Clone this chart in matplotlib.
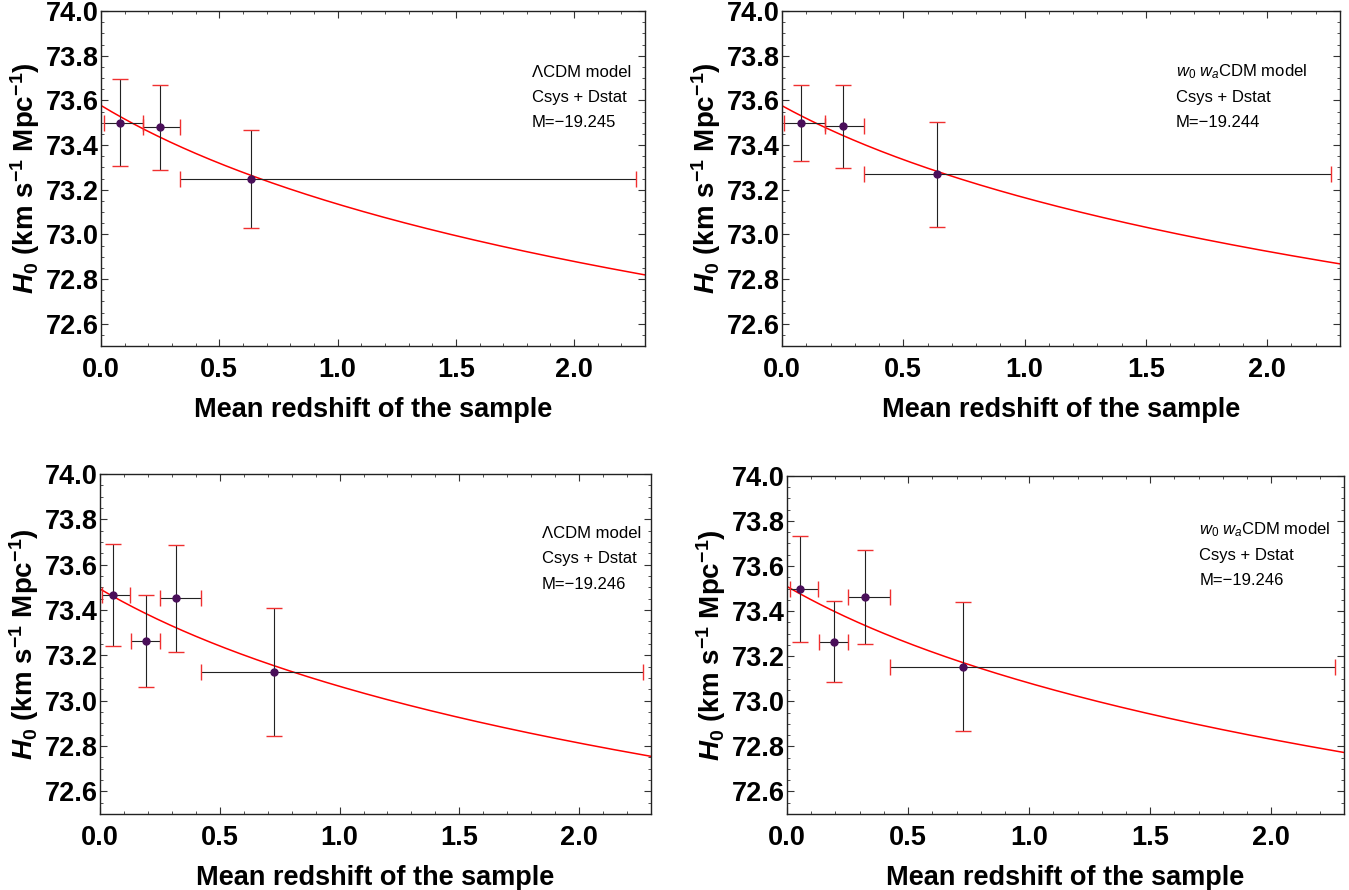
import numpy as np
import matplotlib
matplotlib.use("Agg")
import matplotlib.pyplot as plt
from matplotlib.ticker import MultipleLocator

plt.rcParams["font.family"] = ["Liberation Sans", "DejaVu Sans"]
plt.rcParams["mathtext.fontset"] = "custom"
plt.rcParams["mathtext.rm"] = "Liberation Sans"
plt.rcParams["mathtext.it"] = "Liberation Sans:italic"
plt.rcParams["mathtext.bf"] = "Liberation Sans:bold"
plt.rcParams["mathtext.bfit"] = "Liberation Sans:bold:italic"

# --- data ---
# top left: LCDM, 3 bins
tl_z = [0.080, 0.249, 0.636]
tl_z_lo = [0.011, 0.176, 0.335]
tl_z_hi = [0.176, 0.335, 2.260]
tl_h = [73.500, 73.480, 73.249]
tl_h_lo = [73.307, 73.290, 73.030]
tl_h_hi = [73.695, 73.670, 73.467]
tl_fit = (73.577, 0.00868)   # H0_tilde, alpha

# top right: w0waCDM, 3 bins
tr_z = [0.080, 0.250, 0.638]
tr_z_lo = [0.009, 0.176, 0.337]
tr_z_hi = [0.176, 0.337, 2.263]
tr_h = [73.500, 73.486, 73.271]
tr_h_lo = [73.329, 73.299, 73.032]
tr_h_hi = [73.668, 73.671, 73.504]
tr_fit = (73.576, 0.00810)

# bottom left: LCDM, 4 bins
bl_z = [0.053, 0.193, 0.316, 0.725]
bl_z_lo = [0.007, 0.131, 0.251, 0.421]
bl_z_hi = [0.127, 0.251, 0.421, 2.265]
bl_h = [73.466, 73.262, 73.451, 73.126]
bl_h_lo = [73.240, 73.060, 73.215, 72.843]
bl_h_hi = [73.693, 73.465, 73.688, 73.410]
bl_fit = (73.493, 0.00846)

# bottom right: w0waCDM, 4 bins
br_z = [0.054, 0.192, 0.320, 0.727]
br_z_lo = [0.011, 0.133, 0.250, 0.424]
br_z_hi = [0.129, 0.250, 0.424, 2.264]
br_h = [73.499, 73.264, 73.463, 73.154]
br_h_lo = [73.265, 73.085, 73.254, 72.870]
br_h_hi = [73.735, 73.444, 73.673, 73.439]
br_fit = (73.509, 0.00843)

lcdm_txt = "ΛCDM model"
wcdm_txt = r"$w_0\ w_a$CDM model"
method_txt = "Csys + Dstat"

panels = [
    # axes rect, data, label lines, text x/y (axes fraction)
    ([0.0749, 0.6112, 0.4033, 0.3764], (tl_z, tl_z_lo, tl_z_hi, tl_h, tl_h_lo, tl_h_hi, tl_fit),
     [lcdm_txt, method_txt, "M=−19.245"], 0.792, 0.818),
    ([0.5797, 0.6112, 0.4136, 0.3764], (tr_z, tr_z_lo, tr_z_hi, tr_h, tr_h_lo, tr_h_hi, tr_fit),
     [wcdm_txt, method_txt, "M=−19.244"], 0.706, 0.818),
    ([0.0741, 0.0854, 0.4085, 0.3820], (bl_z, bl_z_lo, bl_z_hi, bl_h, bl_h_lo, bl_h_hi, bl_fit),
     [lcdm_txt, method_txt, "M=−19.246"], 0.802, 0.826),
    ([0.5834, 0.0854, 0.4129, 0.3800], (br_z, br_z_lo, br_z_hi, br_h, br_h_lo, br_h_hi, br_fit),
     [wcdm_txt, method_txt, "M=−19.246"], 0.740, 0.840),
]

fig = plt.figure(figsize=(13.49, 8.90), dpi=100)

for rect, data, lines, tx, ty in panels:
    z, z_lo, z_hi, h, h_lo, h_hi = [np.asarray(d) for d in data[:6]]
    fit = data[6]
    ax = fig.add_axes(rect)

    # fit curve H0(z) = H0_tilde / (1+z)^alpha
    zz = np.linspace(0, 2.3, 300)
    ax.plot(zz, fit[0] / (1 + zz) ** fit[1], color="red", lw=1.1, zorder=2)

    # error bars: dark bars, red caps
    ax.errorbar(z, h, xerr=[z - z_lo, z_hi - z], yerr=[h - h_lo, h_hi - h],
                fmt="none", ecolor="#222222", elinewidth=0.8, capsize=0, zorder=3)
    ax.plot(z, h_lo, ls="none", marker="_", ms=12, mew=1.0, color="#f03030", zorder=4)
    ax.plot(z, h_hi, ls="none", marker="_", ms=12, mew=1.0, color="#f03030", zorder=4)
    ax.plot(z_lo, h, ls="none", marker="|", ms=12, mew=1.0, color="#f03030", zorder=4)
    ax.plot(z_hi, h, ls="none", marker="|", ms=12, mew=1.0, color="#f03030", zorder=4)
    ax.plot(z, h, ls="none", marker="o", ms=5, color="#4a0f5a", zorder=5)

    ax.set_xlim(0, 2.3)
    ax.set_ylim(72.5, 74.0)
    ax.xaxis.set_major_locator(MultipleLocator(0.5))
    ax.xaxis.set_minor_locator(MultipleLocator(0.1))
    ax.yaxis.set_major_locator(MultipleLocator(0.2))
    ax.yaxis.set_minor_locator(MultipleLocator(0.05))
    ax.yaxis.set_major_formatter(matplotlib.ticker.FormatStrFormatter("%.1f"))
    ax.xaxis.set_major_formatter(matplotlib.ticker.FormatStrFormatter("%.1f"))
    ax.tick_params(which="both", direction="in", top=True, right=True, color="#333333")
    ax.tick_params(which="major", length=5, width=0.8)
    ax.tick_params(which="minor", length=2.5, width=0.6)
    ax.tick_params(axis="y", labelsize=19.5, pad=1.5)
    ax.tick_params(axis="x", labelsize=19.5, pad=8)
    for lab in ax.get_xticklabels() + ax.get_yticklabels():
        lab.set_fontweight("bold")
    for sp in ax.spines.values():
        sp.set_linewidth(1.0)
        sp.set_color("#222222")

    ax.set_xlabel("Mean redshift of the sample", fontsize=19.5, fontweight="bold", labelpad=10)
    ax.set_ylabel(r"$\mathbfit{H}_{\mathbf{0}}$ (km s$^{\mathbf{-1}}$ Mpc$^{\mathbf{-1}}$)",
                  fontsize=20, fontweight="bold", labelpad=3)

    for i, line in enumerate(lines):
        ax.text(tx, ty - i * 0.075, line, transform=ax.transAxes, fontsize=12,
                ha="left", va="center")

fig.savefig("out.png", dpi=100)
